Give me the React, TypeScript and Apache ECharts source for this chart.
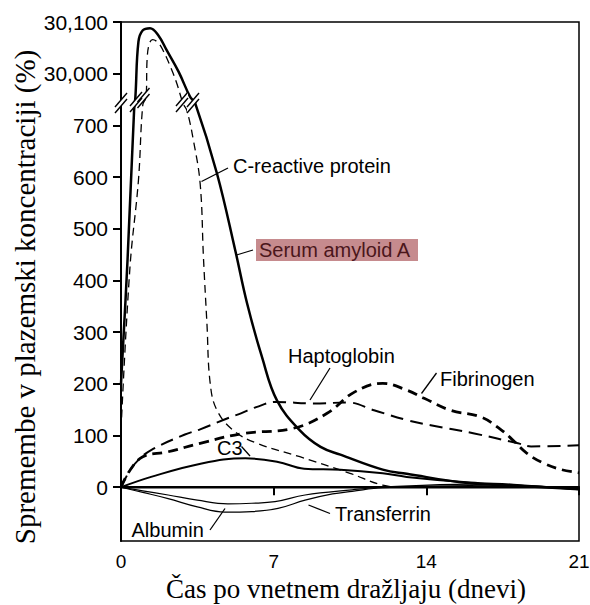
import React, { useEffect, useRef } from "react";
import * as echarts from "echarts";

// ---- axis ----
const xTickInterval = 7;
const xMin = 0;
const xMax = 21;
const yTickValues = [0, 100, 200, 300, 400, 500, 600, 700, 800, 900];
const yTickLabels = ["0", "100", "200", "300", "400", "500", "600", "700", "30,000", "30,100"];
// values above the axis break (>= 29,950 %) are shifted down by this offset for display
const BREAK_OFFSET = 29200;
const BREAK_LOW = 750;

// ---- series (day, % change) ----
const saaDays = [0, 0.3, 0.6, 0.66, 0.8, 1.0, 1.33, 1.7, 2.1, 2.65, 3.17, 3.4, 4.4, 5.24, 5.78, 6.47, 7.15, 8.2, 9.15, 10.06, 12, 13.1, 15.9, 18, 21];
const saaValues = [200, 440, 729, 29955, 30062, 30084, 30088, 30075, 30045, 30003, 29955, 743, 607, 458, 356, 251, 168, 110, 78, 63, 34, 26, 8, 3, -4];

const crpDays = [0, 0.41, 0.8, 1.0, 1.15, 1.2, 1.3, 1.45, 1.7, 1.93, 2.3, 2.56, 2.85, 3.02, 3.32, 3.63, 3.78, 3.94, 4.09, 4.4, 5.15, 6.23, 8.2, 10.5, 12, 13, 21];
const crpValues = [110, 425, 594, 740, 29955, 30030, 30058, 30066, 30060, 30045, 30010, 29981, 742, 729, 671, 587, 445, 317, 201, 149, 110, 85, 59, 27, 4, 0, 0];

const haptoglobinDays = [0, 0.4, 0.78, 1.38, 2.93, 3.63, 4.92, 5.5, 6.2, 7.1, 8.84, 10.4, 11.6, 13.1, 14.2, 16.2, 18.2, 18.8, 21];
const haptoglobinValues = [0, 32, 52, 72, 102, 112, 134, 143, 155, 165, 162, 164, 149, 130, 120, 104, 85, 79, 81];

const fibrinogenDays = [0, 0.4, 1.0, 2.1, 3.63, 5.6, 7.9, 9.45, 10.7, 12, 13.1, 13.9, 15.1, 16.5, 17.4, 18.0, 18.6, 19.4, 20.2, 21];
const fibrinogenValues = [0, 32, 59, 68, 85, 104, 114, 143, 184, 201, 188, 172, 149, 136, 112, 90, 66, 46, 34, 28];

const c3Days = [0, 1.38, 3.7, 5.7, 7.2, 8.4, 10.06, 12, 13.1, 16, 18, 21];
const c3Values = [0, 20, 46, 56, 49, 36, 34, 27, 20, 9, 5, -4];

const albuminDays = [0, 1, 2.16, 3.5, 4.76, 6, 7.2, 8.44, 9.7, 10.6, 12, 16, 21];
const albuminValues = [0, -10, -22, -38, -48, -47, -41, -25, -13, -8, -1, 3, -4];

const transferrinDays = [0, 1, 2.16, 3.5, 4.9, 6, 7.06, 8.44, 10.6, 12, 16, 21];
const transferrinValues = [0, -7, -15, -25, -32, -31, -28, -15, -5, 0, 6, -3];

const baselineDays = [0, 21];
const baselineValues = [0, 0];

const toDisplay = (v: number) => (v >= BREAK_LOW + 1000 ? v - BREAK_OFFSET : v);
const pts = (d: number[], v: number[]) => d.map((x, i) => [x, toDisplay(v[i])]);

const SANS = '"Liberation Sans", Arial, Helvetica, sans-serif';
const SERIF = '"Liberation Serif", "Times New Roman", serif';

function lineSeries(name: string, d: number[], v: number[], width: number, type: any, z = 2) {
  return {
    name,
    type: "line",
    data: pts(d, v),
    smooth: 0.4,
    showSymbol: false,
    symbol: "none",
    z,
    lineStyle: { color: "#000", width, type, cap: "butt", join: "round" },
    silent: true,
  };
}

function breakMark(cx: number, cy: number) {
  const a = 6, b = 7, g = 3;
  return [
    {
      type: "polygon",
      z: 100,
      shape: { points: [[cx - a, cy + b - g], [cx + a, cy - b - g], [cx + a, cy - b + g], [cx - a, cy + b + g]] },
      style: { fill: "#fff", stroke: null },
    },
    { type: "line", z: 101, shape: { x1: cx - a, y1: cy + b - g, x2: cx + a, y2: cy - b - g }, style: { stroke: "#000", lineWidth: 1.4 } },
    { type: "line", z: 101, shape: { x1: cx - a, y1: cy + b + g, x2: cx + a, y2: cy - b + g }, style: { stroke: "#000", lineWidth: 1.4 } },
  ];
}

function label(text: string, x: number, y: number, fill = "#000") {
  return {
    type: "text",
    z: 110,
    x,
    y,
    style: { text, fill, font: `20px ${SANS}`, textVerticalAlign: "middle", textAlign: "left" },
  };
}

function leader(x1: number, y1: number, x2: number, y2: number) {
  return { type: "line", z: 110, shape: { x1, y1, x2, y2 }, style: { stroke: "#000", lineWidth: 1.3 } };
}

export default function App() {
  const ref = useRef<HTMLDivElement>(null);
  useEffect(() => {
    if (!ref.current) return;
    const chart = echarts.init(ref.current, null, { renderer: "svg" });
    const option: any = {
      animation: false,
      backgroundColor: "#fff",
      grid: {
        left: 121,
        right: 11,
        top: 22,
        bottom: 64,
        containLabel: false,
        outerBoundsMode: "none",
        show: true,
        borderColor: "#000",
        borderWidth: 1.5,
      },
      xAxis: {
        type: "value",
        min: xMin,
        max: xMax,
        interval: xTickInterval,
        axisLine: { show: true, lineStyle: { color: "#000", width: 2 } },
        axisTick: { show: true, inside: false, length: 8, lineStyle: { color: "#000", width: 2 } },
        axisLabel: { color: "#000", fontSize: 19, fontFamily: SANS, margin: 11 },
        splitLine: { show: false },
      },
      yAxis: {
        type: "value",
        min: -104,
        max: 900,
        axisLine: { show: true, lineStyle: { color: "#000", width: 2 } },
        axisTick: { show: true, inside: false, length: 8, customValues: yTickValues, lineStyle: { color: "#000", width: 2 } },
        axisLabel: {
          color: "#000",
          fontSize: 21,
          fontFamily: SANS,
          margin: 13,
          customValues: yTickValues,
          formatter: (v: number) => {
            const i = yTickValues.indexOf(Math.round(v));
            return i >= 0 ? yTickLabels[i] : "";
          },
        },
        splitLine: { show: false },
      },
      series: [
        lineSeries("Baseline", baselineDays, baselineValues, 2.5, "solid", 1),
        lineSeries("Serum amyloid A", saaDays, saaValues, 2.5, "solid", 3),
        lineSeries("C-reactive protein", crpDays, crpValues, 1.3, [8, 5], 3),
        lineSeries("Haptoglobin", haptoglobinDays, haptoglobinValues, 2, [13, 7], 2),
        lineSeries("Fibrinogen", fibrinogenDays, fibrinogenValues, 2.8, [10, 6], 2),
        lineSeries("C3", c3Days, c3Values, 2, "solid", 2),
        lineSeries("Albumin", albuminDays, albuminValues, 1.2, "solid", 2),
        lineSeries("Transferrin", transferrinDays, transferrinValues, 1.2, "solid", 2),
      ],
      graphic: [
        ...breakMark(121, 103),
        ...breakMark(136, 102),
        ...breakMark(143.5, 98),
        ...breakMark(182, 102),
        ...breakMark(193, 103),
        leader(201.5, 181.5, 228, 168),
        label("C-reactive protein", 233, 166),
        {
          type: "rect",
          z: 105,
          shape: { x: 256, y: 239, width: 162, height: 22 },
          style: { fill: "#c68b8e", stroke: null },
        },
        leader(236.5, 255, 253, 250),
        label("Serum amyloid A", 259, 250, "#4b161b"),
        leader(310, 400, 330, 368),
        label("Haptoglobin", 288, 356),
        leader(421.5, 393.5, 436.5, 373),
        label("Fibrinogen", 440, 378.5),
        leader(241.5, 446.5, 250, 456),
        label("C3", 217, 448),
        leader(210, 530, 225, 508.5),
        label("Albumin", 131.5, 529.5),
        leader(308.5, 505, 330, 513.5),
        label("Transferrin", 335, 513.5),
        {
          type: "text",
          z: 110,
          x: 25,
          y: 297,
          rotation: Math.PI / 2,
          style: {
            text: "Spremembe v plazemski koncentraciji (%)",
            fill: "#000",
            font: `29px ${SERIF}`,
            textAlign: "center",
            textVerticalAlign: "middle",
          },
        },
        {
          type: "text",
          z: 110,
          x: 346,
          y: 589,
          style: {
            text: "Čas po vnetnem dražljaju (dnevi)",
            fill: "#000",
            font: `27px ${SERIF}`,
            textAlign: "center",
            textVerticalAlign: "middle",
          },
        },
      ],
    };
    chart.setOption(option);
    return () => chart.dispose();
  }, []);
  return (
    <div
      ref={ref}
      style={{ position: "absolute", left: 0, top: 0, width: 590, height: 605, background: "#fff" }}
    />
  );
}
